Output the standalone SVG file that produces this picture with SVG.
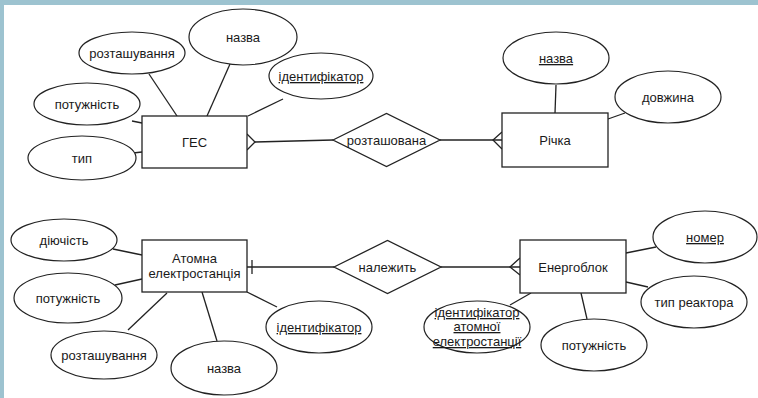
<svg xmlns="http://www.w3.org/2000/svg" width="758" height="398" viewBox="0 0 758 398">
<style>
.e{fill:#fff;stroke:#222;stroke-width:1.2}
.r{fill:#fff;stroke:#222;stroke-width:1.3}
.c line,.c polyline{stroke:#222;stroke-width:1.3;fill:none}
text{font-family:"Liberation Sans",Arial,sans-serif;font-size:13px;fill:#1a1a1a;text-anchor:middle}
.u{text-decoration:underline}
</style>
<rect x="0" y="0" width="758" height="398" fill="#fff"/>
<rect x="0" y="0" width="758" height="5" fill="#9dc3d0"/>
<rect x="0" y="0" width="4" height="398" fill="#9dc3d0"/>
<g class="c" id="connectors">
<line x1="149" y1="74" x2="177" y2="116"/>
<line x1="230" y1="64" x2="207" y2="116"/>
<line x1="283" y1="99" x2="248" y2="116"/>
<line x1="132" y1="121" x2="142" y2="123"/>
<line x1="133" y1="153" x2="142" y2="152"/>
<line x1="255" y1="142" x2="333" y2="140"/>
<polyline points="247,134 255,142 247,150"/>
<line x1="440" y1="140" x2="502" y2="140"/>
<polyline points="502,132 493,140 502,149"/>
<line x1="556" y1="85" x2="555" y2="113"/>
<line x1="625" y1="113" x2="608" y2="119"/>
<line x1="113" y1="249" x2="142" y2="255"/>
<line x1="115" y1="285" x2="142" y2="279"/>
<line x1="128" y1="330" x2="167" y2="293"/>
<line x1="217" y1="341" x2="202" y2="292"/>
<line x1="277" y1="307" x2="247" y2="292"/>
<line x1="247" y1="267" x2="334" y2="267"/>
<line x1="252" y1="260" x2="252" y2="274"/>
<line x1="441" y1="267" x2="520" y2="267"/>
<polyline points="520,258 510,267 520,275"/>
<line x1="656" y1="247" x2="626" y2="253"/>
<line x1="648" y1="287" x2="626" y2="282"/>
<line x1="587" y1="319" x2="581" y2="293"/>
<line x1="510" y1="305" x2="531" y2="293"/>
</g>
<g id="ges"><rect class="r" x="142" y="116" width="105" height="52"/><text x="194.5" y="147">ГЕС</text></g>
<g id="ges-roztash"><ellipse class="e" cx="132" cy="53" rx="53" ry="21"/><text x="132" y="58">розташування</text></g>
<g id="ges-nazva"><ellipse class="e" cx="243" cy="37" rx="54" ry="28"/><text x="243" y="42">назва</text></g>
<g id="ges-id"><ellipse class="e" cx="321" cy="76" rx="52" ry="23"/><text class="u" x="321" y="81">ідентифікатор</text></g>
<g id="ges-potuzh"><ellipse class="e" cx="87" cy="104" rx="53" ry="21"/><text x="87" y="109">потужність</text></g>
<g id="ges-typ"><ellipse class="e" cx="82" cy="158" rx="54" ry="22"/><text x="82" y="163">тип</text></g>
<g id="rel1"><polygon class="r" points="333,140 386.5,113.5 440,140 386.5,166.5"/><text x="386.5" y="145">розташована</text></g>
<g id="richka"><rect class="r" x="502" y="113" width="106" height="54"/><text x="555" y="145">Річка</text></g>
<g id="richka-nazva"><ellipse class="e" cx="556" cy="58" rx="53" ry="26"/><text class="u" x="556" y="63">назва</text></g>
<g id="richka-dovzh"><ellipse class="e" cx="668" cy="97" rx="53" ry="26"/><text x="668" y="102">довжина</text></g>
<g id="aes"><rect class="r" x="142" y="240" width="105" height="52"/><text x="194.5" y="263">Атомна</text><text x="194.5" y="278">електростанція</text></g>
<g id="aes-diyuch"><ellipse class="e" cx="64" cy="240" rx="53" ry="21"/><text x="64" y="245">діючість</text></g>
<g id="aes-potuzh"><ellipse class="e" cx="68" cy="298" rx="54" ry="25"/><text x="68" y="303">потужність</text></g>
<g id="aes-roztash"><ellipse class="e" cx="104" cy="355" rx="53" ry="24"/><text x="104" y="360">розташування</text></g>
<g id="aes-nazva"><ellipse class="e" cx="224" cy="368" rx="53" ry="27"/><text x="224" y="373">назва</text></g>
<g id="aes-id"><ellipse class="e" cx="319" cy="327" rx="53" ry="26"/><text class="u" x="319" y="332">ідентифікатор</text></g>
<g id="rel2"><polygon class="r" points="334,267 387.5,240.5 441,267 387.5,293.5"/><text x="387.5" y="272">належить</text></g>
<g id="energoblok"><rect class="r" x="520" y="240" width="106" height="53"/><text x="573" y="272">Енергоблок</text></g>
<g id="eb-nomer"><ellipse class="e" cx="705" cy="237" rx="52" ry="26"/><text class="u" x="705" y="242">номер</text></g>
<g id="eb-typ"><ellipse class="e" cx="694" cy="302" rx="53" ry="26"/><text x="694" y="307">тип реактора</text></g>
<g id="eb-potuzh"><ellipse class="e" cx="594" cy="345" rx="53" ry="26"/><text x="594" y="350">потужність</text></g>
<g id="eb-id-aes"><ellipse class="e" cx="477" cy="327" rx="53" ry="26"/><text class="u" x="477" y="317">ідентифікатор</text><text class="u" x="477" y="331">атомної</text><text class="u" x="477" y="346">електростанції</text></g>
</svg>
